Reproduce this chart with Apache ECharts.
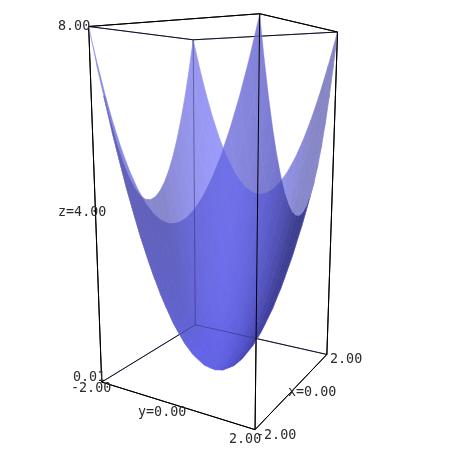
<!DOCTYPE html>
<html><head><meta charset="utf-8"><style>html,body{margin:0;background:#fff}#c{width:450px;height:450px}</style>
<script src="https://cdn.jsdelivr.net/npm/echarts@6/dist/echarts.min.js"></script></head><body><div id="c"></div>
<script>
var xValues=[-2,-1.8,-1.6,-1.4,-1.2,-1,-0.8,-0.6,-0.4,-0.2,0,0.2,0.4,0.6,0.8,1,1.2,1.4,1.6,1.8,2];
var yValues=[-2,-1.8,-1.6,-1.4,-1.2,-1,-0.8,-0.6,-0.4,-0.2,0,0.2,0.4,0.6,0.8,1,1.2,1.4,1.6,1.8,2];
var zRows=[
[8,7.24,6.56,5.96,5.44,5,4.64,4.36,4.16,4.04,4,4.04,4.16,4.36,4.64,5,5.44,5.96,6.56,7.24,8],
[7.24,6.48,5.8,5.2,4.68,4.24,3.88,3.6,3.4,3.28,3.24,3.28,3.4,3.6,3.88,4.24,4.68,5.2,5.8,6.48,7.24],
[6.56,5.8,5.12,4.52,4,3.56,3.2,2.92,2.72,2.6,2.56,2.6,2.72,2.92,3.2,3.56,4,4.52,5.12,5.8,6.56],
[5.96,5.2,4.52,3.92,3.4,2.96,2.6,2.32,2.12,2,1.96,2,2.12,2.32,2.6,2.96,3.4,3.92,4.52,5.2,5.96],
[5.44,4.68,4,3.4,2.88,2.44,2.08,1.8,1.6,1.48,1.44,1.48,1.6,1.8,2.08,2.44,2.88,3.4,4,4.68,5.44],
[5,4.24,3.56,2.96,2.44,2,1.64,1.36,1.16,1.04,1,1.04,1.16,1.36,1.64,2,2.44,2.96,3.56,4.24,5],
[4.64,3.88,3.2,2.6,2.08,1.64,1.28,1,0.8,0.68,0.64,0.68,0.8,1,1.28,1.64,2.08,2.6,3.2,3.88,4.64],
[4.36,3.6,2.92,2.32,1.8,1.36,1,0.72,0.52,0.4,0.36,0.4,0.52,0.72,1,1.36,1.8,2.32,2.92,3.6,4.36],
[4.16,3.4,2.72,2.12,1.6,1.16,0.8,0.52,0.32,0.2,0.16,0.2,0.32,0.52,0.8,1.16,1.6,2.12,2.72,3.4,4.16],
[4.04,3.28,2.6,2,1.48,1.04,0.68,0.4,0.2,0.08,0.04,0.08,0.2,0.4,0.68,1.04,1.48,2,2.6,3.28,4.04],
[4,3.24,2.56,1.96,1.44,1,0.64,0.36,0.16,0.04,0.01,0.04,0.16,0.36,0.64,1,1.44,1.96,2.56,3.24,4],
[4.04,3.28,2.6,2,1.48,1.04,0.68,0.4,0.2,0.08,0.04,0.08,0.2,0.4,0.68,1.04,1.48,2,2.6,3.28,4.04],
[4.16,3.4,2.72,2.12,1.6,1.16,0.8,0.52,0.32,0.2,0.16,0.2,0.32,0.52,0.8,1.16,1.6,2.12,2.72,3.4,4.16],
[4.36,3.6,2.92,2.32,1.8,1.36,1,0.72,0.52,0.4,0.36,0.4,0.52,0.72,1,1.36,1.8,2.32,2.92,3.6,4.36],
[4.64,3.88,3.2,2.6,2.08,1.64,1.28,1,0.8,0.68,0.64,0.68,0.8,1,1.28,1.64,2.08,2.6,3.2,3.88,4.64],
[5,4.24,3.56,2.96,2.44,2,1.64,1.36,1.16,1.04,1,1.04,1.16,1.36,1.64,2,2.44,2.96,3.56,4.24,5],
[5.44,4.68,4,3.4,2.88,2.44,2.08,1.8,1.6,1.48,1.44,1.48,1.6,1.8,2.08,2.44,2.88,3.4,4,4.68,5.44],
[5.96,5.2,4.52,3.92,3.4,2.96,2.6,2.32,2.12,2,1.96,2,2.12,2.32,2.6,2.96,3.4,3.92,4.52,5.2,5.96],
[6.56,5.8,5.12,4.52,4,3.56,3.2,2.92,2.72,2.6,2.56,2.6,2.72,2.92,3.2,3.56,4,4.52,5.12,5.8,6.56],
[7.24,6.48,5.8,5.2,4.68,4.24,3.88,3.6,3.4,3.28,3.24,3.28,3.4,3.6,3.88,4.24,4.68,5.2,5.8,6.48,7.24],
[8,7.24,6.56,5.96,5.44,5,4.64,4.36,4.16,4.04,4,4.04,4.16,4.36,4.64,5,5.44,5.96,6.56,7.24,8]];
var xRange=[-2,2],yRange=[-2,2],zRange=[0.01,8];
var tickLabels=['8.00','z=4.00','0.01','-2.00','y=0.00','2.00','-2.00','x=0.00','2.00'];

// camera matrix: world (x,y,z,1) -> homogeneous screen position
var CAM=[[33.56478,27.87122,-2.60562,219.70553],[5.14897,-3.1986,-42.67259,367.98611],[0.05783,-0.03379,-0.01186,1]];
function project(x,y,z){var w=CAM[2][0]*x+CAM[2][1]*y+CAM[2][2]*z+CAM[2][3];
  return [(CAM[0][0]*x+CAM[0][1]*y+CAM[0][2]*z+CAM[0][3])/w,(CAM[1][0]*x+CAM[1][1]*y+CAM[1][2]*z+CAM[1][3])/w];}
var labelAt=[[58,27],[58,213],[73,378],[71,389],[138,413],[229,440],[256,436],[288,393],[330,360]];

function norm(v){var l=Math.hypot(v[0],v[1],v[2]);return [v[0]/l,v[1]/l,v[2]/l];}
var ASPECT=1.2;
var LIGHT_IN=norm([-0.874,0.273,0.45]),LIGHT_OUT=norm([-0.9,0,-0.1]);
var n=xValues.length;
function pt(i,j){return project(xValues[i],yValues[j],zRows[i][j]);}
function normal(i,j){ // the bowl's inner normal, from the table
  var a=Math.max(i-1,0),b=Math.min(i+1,n-1),c=Math.max(j-1,0),d=Math.min(j+1,n-1);
  var dx=(zRows[b][j]-zRows[a][j])/(xValues[b]-xValues[a]),dy=(zRows[i][d]-zRows[i][c])/(yValues[d]-yValues[c]);
  return norm([-dx*ASPECT,-dy*ASPECT,1]);}
function dot(a,b){return a[0]*b[0]+a[1]*b[1]+a[2]*b[2];}
function area(i,j){var p=[pt(i,j),pt(i+1,j),pt(i+1,j+1),pt(i,j+1)],s=0;
  for(var k=0;k<4;k++){var q=p[(k+1)%4];s+=p[k][0]*q[1]-q[0]*p[k][1];}return s;}
var innerSign=Math.sign(area(10,10));
var innerQuads=[],outerQuads=[];
for(var i=0;i<n-1;i++)for(var j=0;j<n-1;j++){(Math.sign(area(i,j))===innerSign?innerQuads:outerQuads).push([i,j]);}
function mix(a,b,t){t=Math.max(0,Math.min(1,t));return [a[0]+(b[0]-a[0])*t,a[1]+(b[1]-a[1])*t,a[2]+(b[2]-a[2])*t];}
function rgb(c){return 'rgb('+Math.round(c[0])+','+Math.round(c[1])+','+Math.round(c[2])+')';}
var UNDER='rgb(190,190,245)';
var INNER_DIM=[134,134,196],INNER_LIT=[158,158,255],INNER_FLOOR=[138,138,252];
var OUTER_DIM=[112,112,175],OUTER_LIT=[184,184,234];
function innerColor(i,j){var nn=normal(i,j);
  return mix(mix(INNER_DIM,INNER_LIT,(dot(nn,LIGHT_IN)-0.55)/0.42),INNER_FLOOR,(nn[2]-0.15)/0.4);}
function outerColor(i,j){var nn=normal(i,j);
  return mix(OUTER_DIM,OUTER_LIT,-dot(nn,LIGHT_OUT)/0.8);}
function quadPoints(api,i,j){return [[i,j],[i+1,j],[i+1,j+1],[i,j+1]].map(function(v){return api.coord(pt(v[0],v[1]));});}
// Screen-space least-squares gradient across one quad, so neighbouring quads meet smoothly.
function gradient(pts,i,j,colorOf){
  var c=[colorOf(i,j),colorOf(i+1,j),colorOf(i+1,j+1),colorOf(i,j+1)];
  var mx=(pts[0][0]+pts[1][0]+pts[2][0]+pts[3][0])/4,my=(pts[0][1]+pts[1][1]+pts[2][1]+pts[3][1])/4;
  var s=c.map(function(v){return v[0]+v[2];}),sm=(s[0]+s[1]+s[2]+s[3])/4;
  var xx=1e-3,xy=0,yy=1e-3,xs=0,ys=0;
  for(var k=0;k<4;k++){var ax=pts[k][0]-mx,ay=pts[k][1]-my,as=s[k]-sm;xx+=ax*ax;xy+=ax*ay;yy+=ay*ay;xs+=ax*as;ys+=ay*as;}
  var det=xx*yy-xy*xy,gx=(xs*yy-ys*xy)/det,gy=(ys*xx-xs*xy)/det,gl=Math.hypot(gx,gy);
  var dx=gl>1e-9?gx/gl:1,dy=gl>1e-9?gy/gl:0;
  var t=pts.map(function(p){return (p[0]-mx)*dx+(p[1]-my)*dy;});
  var T=Math.max(0.5,Math.abs(t[0]),Math.abs(t[1]),Math.abs(t[2]),Math.abs(t[3]));
  var tt=t[0]*t[0]+t[1]*t[1]+t[2]*t[2]+t[3]*t[3]+1e-6;
  var lo=[],hi=[];
  for(var ch=0;ch<3;ch++){var m=(c[0][ch]+c[1][ch]+c[2][ch]+c[3][ch])/4,b=0;
    for(k=0;k<4;k++)b+=c[k][ch]*t[k];b/=tt;lo.push(m-b*T);hi.push(m+b*T);}
  return {type:'linear',x:mx-dx*T,y:my-dy*T,x2:mx+dx*T,y2:my+dy*T,global:true,
    colorStops:[{offset:0,color:rgb(lo)},{offset:1,color:rgb(hi)}]};}

function quadSeries(data,make,blend){return {type:'custom',coordinateSystem:'cartesian2d',silent:true,animation:false,progressive:0,clip:false,blendMode:blend||'source-over',
  data:data,renderItem:function(p,api){var i=api.value(0),j=api.value(1),pts=quadPoints(api,i,j);
    return {type:'polygon',shape:{points:pts},style:make(pts,i,j)};}};}

var cx=[xRange[0],xRange[0],xRange[1],xRange[1]],cy=[yRange[0],yRange[1],yRange[1],yRange[0]];
function corner(k){return project(cx[k%4],cy[k%4],zRange[k<4?0:1]);}
// corners 0..3 bottom A,B,C,D ; 4..7 top. Edges touching D are behind the surface.
var nearEdges=[[0,1],[1,2],[0,4],[1,5],[2,6],[4,5],[5,6]],farEdges=[[0,3],[3,2],[3,7],[4,7],[7,6]];
function edgeSeries(edges,color,width){return {type:'custom',coordinateSystem:'cartesian2d',silent:true,animation:false,clip:false,
  data:edges,renderItem:function(p,api){var a=api.coord(corner(api.value(0))),b=api.coord(corner(api.value(1)));
    return {type:'line',shape:{x1:a[0],y1:a[1],x2:b[0],y2:b[1]},style:{stroke:color,lineWidth:width,fill:null}};}};}
var labelSeries={type:'custom',coordinateSystem:'cartesian2d',silent:true,animation:false,clip:false,
  data:tickLabels.map(function(t,k){return [k];}),renderItem:function(p,api){var k=api.value(0),q=api.coord(labelAt[k]);
    return {type:'text',x:q[0],y:q[1],style:{text:tickLabels[k],fill:'#2a2a2a',font:'13.4px "DejaVu Sans Mono"',textAlign:'left',textVerticalAlign:'middle'}};}};

var chart=echarts.init(document.getElementById('c'));
chart.setOption({animation:false,backgroundColor:'#fff',
 grid:{left:0,right:0,top:0,bottom:0},
 xAxis:{type:'value',min:0,max:450,show:false},
 yAxis:{type:'value',min:0,max:450,inverse:true,show:false},
 series:[
  edgeSeries(nearEdges.concat(farEdges),'#000',1),
  quadSeries(outerQuads,function(){return {fill:UNDER,stroke:UNDER,lineWidth:0.7};}),
  quadSeries(innerQuads,function(pts,i,j){var g=gradient(pts,i,j,innerColor);return {fill:g,stroke:g,lineWidth:0.7};}),
  quadSeries(outerQuads,function(pts,i,j){return {fill:gradient(pts,i,j,outerColor)};},'multiply'),
  edgeSeries(farEdges,'rgba(30,30,100,0.45)',1),
  edgeSeries(nearEdges,'#000',1),
  labelSeries
 ]});
</script></body></html>
